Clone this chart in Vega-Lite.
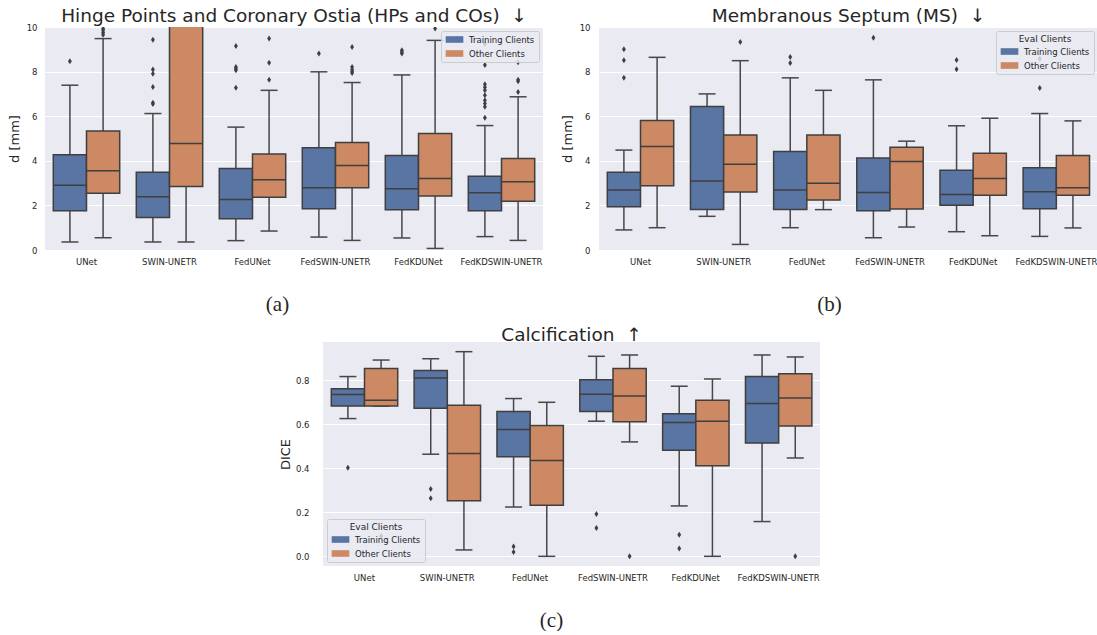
{
  "$schema": "https://vega.github.io/schema/vega-lite/v6.json",
  "padding": {"left": 8, "top": 6, "right": 0, "bottom": 0},
  "datasets": {
    "a_stats": [
      {"model": "UNet", "group": "Training Clients", "lo": 0.36, "q1": 1.76, "med": 2.9, "q3": 4.27, "hi": 7.39},
      {"model": "UNet", "group": "Other Clients", "lo": 0.55, "q1": 2.55, "med": 3.55, "q3": 5.34, "hi": 9.48},
      {"model": "SWIN-UNETR", "group": "Training Clients", "lo": 0.36, "q1": 1.46, "med": 2.39, "q3": 3.49, "hi": 6.12},
      {"model": "SWIN-UNETR", "group": "Other Clients", "lo": 0.36, "q1": 2.85, "med": 4.78, "q3": 11.0, "hi": 20.0},
      {"model": "FedUNet", "group": "Training Clients", "lo": 0.42, "q1": 1.4, "med": 2.27, "q3": 3.66, "hi": 5.51},
      {"model": "FedUNet", "group": "Other Clients", "lo": 0.85, "q1": 2.36, "med": 3.15, "q3": 4.31, "hi": 7.16},
      {"model": "FedSWIN-UNETR", "group": "Training Clients", "lo": 0.58, "q1": 1.85, "med": 2.79, "q3": 4.58, "hi": 7.99},
      {"model": "FedSWIN-UNETR", "group": "Other Clients", "lo": 0.43, "q1": 2.79, "med": 3.79, "q3": 4.82, "hi": 7.51},
      {"model": "FedKDUNet", "group": "Training Clients", "lo": 0.54, "q1": 1.81, "med": 2.75, "q3": 4.24, "hi": 7.85},
      {"model": "FedKDUNet", "group": "Other Clients", "lo": 0.07, "q1": 2.42, "med": 3.21, "q3": 5.22, "hi": 9.4},
      {"model": "FedKDSWIN-UNETR", "group": "Training Clients", "lo": 0.6, "q1": 1.76, "med": 2.57, "q3": 3.31, "hi": 5.58},
      {"model": "FedKDSWIN-UNETR", "group": "Other Clients", "lo": 0.43, "q1": 2.19, "med": 3.06, "q3": 4.1, "hi": 6.87}
    ],
    "a_out": [
      {"model": "UNet", "group": "Training Clients", "value": 8.46},
      {"model": "UNet", "group": "Other Clients", "value": 9.65},
      {"model": "UNet", "group": "Other Clients", "value": 9.75},
      {"model": "UNet", "group": "Other Clients", "value": 9.85},
      {"model": "UNet", "group": "Other Clients", "value": 9.93},
      {"model": "SWIN-UNETR", "group": "Training Clients", "value": 9.43},
      {"model": "SWIN-UNETR", "group": "Training Clients", "value": 8.09},
      {"model": "SWIN-UNETR", "group": "Training Clients", "value": 7.9},
      {"model": "SWIN-UNETR", "group": "Training Clients", "value": 7.31},
      {"model": "SWIN-UNETR", "group": "Training Clients", "value": 6.6},
      {"model": "SWIN-UNETR", "group": "Training Clients", "value": 6.55},
      {"model": "FedUNet", "group": "Training Clients", "value": 9.15},
      {"model": "FedUNet", "group": "Training Clients", "value": 8.21},
      {"model": "FedUNet", "group": "Training Clients", "value": 8.13},
      {"model": "FedUNet", "group": "Training Clients", "value": 8.06},
      {"model": "FedUNet", "group": "Training Clients", "value": 7.28},
      {"model": "FedUNet", "group": "Other Clients", "value": 9.48},
      {"model": "FedUNet", "group": "Other Clients", "value": 8.4},
      {"model": "FedUNet", "group": "Other Clients", "value": 7.64},
      {"model": "FedSWIN-UNETR", "group": "Training Clients", "value": 8.81},
      {"model": "FedSWIN-UNETR", "group": "Other Clients", "value": 9.1},
      {"model": "FedSWIN-UNETR", "group": "Other Clients", "value": 8.21},
      {"model": "FedSWIN-UNETR", "group": "Other Clients", "value": 8.09},
      {"model": "FedSWIN-UNETR", "group": "Other Clients", "value": 8.0},
      {"model": "FedSWIN-UNETR", "group": "Other Clients", "value": 7.94},
      {"model": "FedKDUNet", "group": "Training Clients", "value": 8.96},
      {"model": "FedKDUNet", "group": "Training Clients", "value": 8.88},
      {"model": "FedKDUNet", "group": "Training Clients", "value": 8.81},
      {"model": "FedKDUNet", "group": "Other Clients", "value": 9.93},
      {"model": "FedKDSWIN-UNETR", "group": "Training Clients", "value": 9.25},
      {"model": "FedKDSWIN-UNETR", "group": "Training Clients", "value": 8.3},
      {"model": "FedKDSWIN-UNETR", "group": "Training Clients", "value": 7.43},
      {"model": "FedKDSWIN-UNETR", "group": "Training Clients", "value": 7.3},
      {"model": "FedKDSWIN-UNETR", "group": "Training Clients", "value": 7.16},
      {"model": "FedKDSWIN-UNETR", "group": "Training Clients", "value": 6.94},
      {"model": "FedKDSWIN-UNETR", "group": "Training Clients", "value": 6.72},
      {"model": "FedKDSWIN-UNETR", "group": "Training Clients", "value": 6.57},
      {"model": "FedKDSWIN-UNETR", "group": "Training Clients", "value": 6.42},
      {"model": "FedKDSWIN-UNETR", "group": "Training Clients", "value": 5.93},
      {"model": "FedKDSWIN-UNETR", "group": "Other Clients", "value": 8.42},
      {"model": "FedKDSWIN-UNETR", "group": "Other Clients", "value": 7.64},
      {"model": "FedKDSWIN-UNETR", "group": "Other Clients", "value": 7.57},
      {"model": "FedKDSWIN-UNETR", "group": "Other Clients", "value": 7.09}
    ],
    "b_stats": [
      {"model": "UNet", "group": "Training Clients", "lo": 0.9, "q1": 1.94, "med": 2.69, "q3": 3.49, "hi": 4.48},
      {"model": "UNet", "group": "Other Clients", "lo": 1.0, "q1": 2.88, "med": 4.64, "q3": 5.81, "hi": 8.64},
      {"model": "SWIN-UNETR", "group": "Training Clients", "lo": 1.51, "q1": 1.82, "med": 3.09, "q3": 6.43, "hi": 7.0},
      {"model": "SWIN-UNETR", "group": "Other Clients", "lo": 0.25, "q1": 2.6, "med": 3.85, "q3": 5.16, "hi": 8.49},
      {"model": "FedUNet", "group": "Training Clients", "lo": 1.0, "q1": 1.82, "med": 2.69, "q3": 4.42, "hi": 7.72},
      {"model": "FedUNet", "group": "Other Clients", "lo": 1.81, "q1": 2.24, "med": 2.99, "q3": 5.16, "hi": 7.16},
      {"model": "FedSWIN-UNETR", "group": "Training Clients", "lo": 0.55, "q1": 1.76, "med": 2.58, "q3": 4.12, "hi": 7.63},
      {"model": "FedSWIN-UNETR", "group": "Other Clients", "lo": 1.03, "q1": 1.84, "med": 3.97, "q3": 4.61, "hi": 4.88},
      {"model": "FedKDUNet", "group": "Training Clients", "lo": 0.82, "q1": 2.01, "med": 2.49, "q3": 3.58, "hi": 5.57},
      {"model": "FedKDUNet", "group": "Other Clients", "lo": 0.64, "q1": 2.45, "med": 3.21, "q3": 4.34, "hi": 5.91},
      {"model": "FedKDSWIN-UNETR", "group": "Training Clients", "lo": 0.61, "q1": 1.85, "med": 2.61, "q3": 3.69, "hi": 6.12},
      {"model": "FedKDSWIN-UNETR", "group": "Other Clients", "lo": 0.99, "q1": 2.45, "med": 2.79, "q3": 4.24, "hi": 5.79}
    ],
    "b_out": [
      {"model": "UNet", "group": "Training Clients", "value": 7.72},
      {"model": "UNet", "group": "Training Clients", "value": 8.51},
      {"model": "UNet", "group": "Training Clients", "value": 9.0},
      {"model": "SWIN-UNETR", "group": "Other Clients", "value": 9.33},
      {"model": "FedUNet", "group": "Training Clients", "value": 8.39},
      {"model": "FedUNet", "group": "Training Clients", "value": 8.66},
      {"model": "FedSWIN-UNETR", "group": "Training Clients", "value": 9.52},
      {"model": "FedKDUNet", "group": "Training Clients", "value": 8.1},
      {"model": "FedKDUNet", "group": "Training Clients", "value": 8.52},
      {"model": "FedKDSWIN-UNETR", "group": "Training Clients", "value": 7.27},
      {"model": "FedKDSWIN-UNETR", "group": "Training Clients", "value": 8.58}
    ],
    "c_stats": [
      {"model": "UNet", "group": "Training Clients", "lo": 0.626, "q1": 0.683, "med": 0.735, "q3": 0.762, "hi": 0.817},
      {"model": "UNet", "group": "Other Clients", "lo": 0.683, "q1": 0.683, "med": 0.709, "q3": 0.853, "hi": 0.892},
      {"model": "SWIN-UNETR", "group": "Training Clients", "lo": 0.464, "q1": 0.673, "med": 0.81, "q3": 0.844, "hi": 0.898},
      {"model": "SWIN-UNETR", "group": "Other Clients", "lo": 0.029, "q1": 0.253, "med": 0.467, "q3": 0.686, "hi": 0.93},
      {"model": "FedUNet", "group": "Training Clients", "lo": 0.224, "q1": 0.452, "med": 0.576, "q3": 0.658, "hi": 0.717},
      {"model": "FedUNet", "group": "Other Clients", "lo": 0.0, "q1": 0.232, "med": 0.435, "q3": 0.595, "hi": 0.7},
      {"model": "FedSWIN-UNETR", "group": "Training Clients", "lo": 0.614, "q1": 0.658, "med": 0.736, "q3": 0.802, "hi": 0.909},
      {"model": "FedSWIN-UNETR", "group": "Other Clients", "lo": 0.52, "q1": 0.612, "med": 0.729, "q3": 0.853, "hi": 0.915},
      {"model": "FedKDUNet", "group": "Training Clients", "lo": 0.229, "q1": 0.482, "med": 0.608, "q3": 0.648, "hi": 0.773},
      {"model": "FedKDUNet", "group": "Other Clients", "lo": 0.0, "q1": 0.412, "med": 0.614, "q3": 0.709, "hi": 0.806},
      {"model": "FedKDSWIN-UNETR", "group": "Training Clients", "lo": 0.158, "q1": 0.515, "med": 0.695, "q3": 0.817, "hi": 0.915},
      {"model": "FedKDSWIN-UNETR", "group": "Other Clients", "lo": 0.447, "q1": 0.592, "med": 0.72, "q3": 0.83, "hi": 0.906}
    ],
    "c_out": [
      {"model": "UNet", "group": "Training Clients", "value": 0.403},
      {"model": "UNet", "group": "Other Clients", "value": 0.092},
      {"model": "SWIN-UNETR", "group": "Training Clients", "value": 0.306},
      {"model": "SWIN-UNETR", "group": "Training Clients", "value": 0.264},
      {"model": "FedUNet", "group": "Training Clients", "value": 0.045},
      {"model": "FedUNet", "group": "Training Clients", "value": 0.02},
      {"model": "FedSWIN-UNETR", "group": "Training Clients", "value": 0.192},
      {"model": "FedSWIN-UNETR", "group": "Training Clients", "value": 0.129},
      {"model": "FedSWIN-UNETR", "group": "Other Clients", "value": 0.0},
      {"model": "FedKDUNet", "group": "Training Clients", "value": 0.098},
      {"model": "FedKDUNet", "group": "Training Clients", "value": 0.035},
      {"model": "FedKDSWIN-UNETR", "group": "Other Clients", "value": 0.0}
    ]
  },
  "vconcat": [
    {
      "hconcat": [
        {
          "width": 498, "height": 223,
          "title": {"text": "Hinge Points and Coronary Ostia (HPs and COs) \u00a0\u2193"},
          "encoding": {
            "x": {"field": "model", "type": "nominal", "sort": ["UNet", "SWIN-UNETR", "FedUNet", "FedSWIN-UNETR", "FedKDUNet", "FedKDSWIN-UNETR"], "scale": {"paddingInner": 0, "paddingOuter": 0}, "axis": {"title": "(a)", "titleX": 232, "titlePadding": 28, "labelPadding": 7}},
            "xOffset": {"field": "group", "type": "nominal", "sort": ["Training Clients", "Other Clients"], "scale": {"paddingInner": 0, "paddingOuter": 0.25}}
          },
          "layer": [
            {"data": {"name": "a_stats"}, "mark": {"type": "rule", "color": "#474747", "strokeWidth": 1.5, "clip": true},
             "encoding": {"y": {"field": "lo", "type": "quantitative", "scale": {"domain": [0, 10], "nice": false, "zero": false}, "title": "d [mm]", "axis": {"values": [0, 2, 4, 6, 8, 10], "labelPadding": 8, "titlePadding": 5}}, "y2": {"field": "hi"}}},
            {"data": {"name": "a_stats"}, "mark": {"type": "tick", "color": "#474747", "size": 17, "thickness": 1.5, "opacity": 1, "clip": true},
             "encoding": {"y": {"field": "lo", "type": "quantitative", "title": "d [mm]"}}},
            {"data": {"name": "a_stats"}, "mark": {"type": "tick", "color": "#474747", "size": 17, "thickness": 1.5, "opacity": 1, "clip": true},
             "encoding": {"y": {"field": "hi", "type": "quantitative", "title": "d [mm]"}}},
            {"data": {"name": "a_stats"}, "mark": {"type": "bar", "stroke": "#3f3f3f", "strokeWidth": 1.5, "clip": true},
             "encoding": {"y": {"field": "q1", "type": "quantitative", "title": "d [mm]"}, "y2": {"field": "q3"},
               "color": {"field": "group", "type": "nominal", "scale": {"domain": ["Training Clients", "Other Clients"], "range": ["#5975A4", "#CC8963"]}, "legend": {"title": null, "orient": "top-right"}}}},
            {"data": {"name": "a_stats"}, "mark": {"type": "tick", "color": "#3f3f3f", "size": 33, "thickness": 1.5, "opacity": 1, "clip": true},
             "encoding": {"y": {"field": "med", "type": "quantitative", "title": "d [mm]"}}},
            {"data": {"name": "a_out"}, "mark": {"type": "point", "shape": "M0,-1L0.65,0L0,1L-0.65,0Z", "filled": true, "color": "#3f3f3f", "opacity": 1, "size": 36, "clip": true},
             "encoding": {"y": {"field": "value", "type": "quantitative", "title": "d [mm]"}}}
          ]
        },
        {
          "width": 499, "height": 223,
          "title": {"text": "Membranous Septum (MS) \u00a0\u2193"},
          "encoding": {
            "x": {"field": "model", "type": "nominal", "sort": ["UNet", "SWIN-UNETR", "FedUNet", "FedSWIN-UNETR", "FedKDUNet", "FedKDSWIN-UNETR"], "scale": {"paddingInner": 0, "paddingOuter": 0}, "axis": {"title": "(b)", "titleX": 230, "titlePadding": 28, "labelPadding": 7}},
            "xOffset": {"field": "group", "type": "nominal", "sort": ["Training Clients", "Other Clients"], "scale": {"paddingInner": 0, "paddingOuter": 0.25}}
          },
          "layer": [
            {"data": {"name": "b_stats"}, "mark": {"type": "rule", "color": "#474747", "strokeWidth": 1.5, "clip": true},
             "encoding": {"y": {"field": "lo", "type": "quantitative", "scale": {"domain": [0, 10], "nice": false, "zero": false}, "title": "d [mm]", "axis": {"values": [0, 2, 4, 6, 8, 10], "labelPadding": 9, "titlePadding": 5}}, "y2": {"field": "hi"}}},
            {"data": {"name": "b_stats"}, "mark": {"type": "tick", "color": "#474747", "size": 17, "thickness": 1.5, "opacity": 1},
             "encoding": {"y": {"field": "lo", "type": "quantitative", "title": "d [mm]"}}},
            {"data": {"name": "b_stats"}, "mark": {"type": "tick", "color": "#474747", "size": 17, "thickness": 1.5, "opacity": 1},
             "encoding": {"y": {"field": "hi", "type": "quantitative", "title": "d [mm]"}}},
            {"data": {"name": "b_stats"}, "mark": {"type": "bar", "stroke": "#3f3f3f", "strokeWidth": 1.5},
             "encoding": {"y": {"field": "q1", "type": "quantitative", "title": "d [mm]"}, "y2": {"field": "q3"},
               "color": {"field": "group", "type": "nominal", "scale": {"domain": ["Training Clients", "Other Clients"], "range": ["#5975A4", "#CC8963"]}, "legend": {"title": "Eval Clients", "orient": "top-right"}}}},
            {"data": {"name": "b_stats"}, "mark": {"type": "tick", "color": "#3f3f3f", "size": 33, "thickness": 1.5, "opacity": 1},
             "encoding": {"y": {"field": "med", "type": "quantitative", "title": "d [mm]"}}},
            {"data": {"name": "b_out"}, "mark": {"type": "point", "shape": "M0,-1L0.65,0L0,1L-0.65,0Z", "filled": true, "color": "#3f3f3f", "opacity": 1, "size": 36},
             "encoding": {"y": {"field": "value", "type": "quantitative", "title": "d [mm]"}}}
          ]
        }
      ],
      "spacing": 18,
      "resolve": {"scale": {"color": "independent"}, "legend": {"color": "independent"}}
    },
    {
      "width": 497, "height": 224,
      "title": {"text": "Calcification \u00a0\u2191"},
      "encoding": {
        "x": {"field": "model", "type": "nominal", "sort": ["UNet", "SWIN-UNETR", "FedUNet", "FedSWIN-UNETR", "FedKDUNet", "FedKDSWIN-UNETR"], "scale": {"paddingInner": 0, "paddingOuter": 0}, "axis": {"title": "(c)", "titleX": 228, "titlePadding": 28, "labelPadding": 7}},
        "xOffset": {"field": "group", "type": "nominal", "sort": ["Training Clients", "Other Clients"], "scale": {"paddingInner": 0, "paddingOuter": 0.25}}
      },
      "layer": [
        {"data": {"name": "c_stats"}, "mark": {"type": "rule", "color": "#474747", "strokeWidth": 1.5},
         "encoding": {"y": {"field": "lo", "type": "quantitative", "scale": {"domain": [-0.044, 0.974], "nice": false, "zero": false}, "title": "DICE", "axis": {"values": [0, 0.2, 0.4, 0.6, 0.8], "format": ".1f", "labelPadding": 14, "titlePadding": 3}}, "y2": {"field": "hi"}}},
        {"data": {"name": "c_stats"}, "mark": {"type": "tick", "color": "#474747", "size": 17, "thickness": 1.5, "opacity": 1},
         "encoding": {"y": {"field": "lo", "type": "quantitative", "title": "DICE"}}},
        {"data": {"name": "c_stats"}, "mark": {"type": "tick", "color": "#474747", "size": 17, "thickness": 1.5, "opacity": 1},
         "encoding": {"y": {"field": "hi", "type": "quantitative", "title": "DICE"}}},
        {"data": {"name": "c_stats"}, "mark": {"type": "bar", "stroke": "#3f3f3f", "strokeWidth": 1.5},
         "encoding": {"y": {"field": "q1", "type": "quantitative", "title": "DICE"}, "y2": {"field": "q3"},
           "color": {"field": "group", "type": "nominal", "scale": {"domain": ["Training Clients", "Other Clients"], "range": ["#5975A4", "#CC8963"]}, "legend": {"title": "Eval Clients", "orient": "bottom-left"}}}},
        {"data": {"name": "c_stats"}, "mark": {"type": "tick", "color": "#3f3f3f", "size": 33, "thickness": 1.5, "opacity": 1},
         "encoding": {"y": {"field": "med", "type": "quantitative", "title": "DICE"}}},
        {"data": {"name": "c_out"}, "mark": {"type": "point", "shape": "M0,-1L0.65,0L0,1L-0.65,0Z", "filled": true, "color": "#3f3f3f", "opacity": 1, "size": 36},
         "encoding": {"y": {"field": "value", "type": "quantitative", "title": "DICE"}}}
      ]
    }
  ],
  "spacing": 10,
  "center": true,
  "resolve": {"scale": {"color": "independent"}, "legend": {"color": "independent"}},
  "config": {
    "font": "DejaVu Sans",
    "view": {"fill": "#EAEAF2", "stroke": null},
    "title": {"font": "DejaVu Sans", "fontSize": 18.5, "fontWeight": "normal", "color": "#262626", "anchor": "middle", "offset": -2},
    "axis": {"domain": false, "ticks": false, "labelFont": "DejaVu Sans", "labelFontSize": 8.5, "labelColor": "#262626", "titleFont": "DejaVu Sans", "titleFontSize": 13, "titleFontWeight": "normal", "titleColor": "#262626", "gridColor": "#FFFFFF", "gridWidth": 1, "gridOpacity": 1},
    "axisX": {"grid": false, "labelAngle": 0, "titleFont": "Liberation Serif", "titleFontSize": 21, "titleAlign": "center"},
    "axisY": {"grid": true},
    "legend": {"labelFont": "DejaVu Sans", "labelFontSize": 8.5, "labelColor": "#262626", "titleFont": "DejaVu Sans", "titleFontSize": 9, "titleFontWeight": "normal", "titleColor": "#262626", "titleAnchor": "middle", "titlePadding": 3, "symbolType": "M-2,-0.75H2V0.75H-2Z", "symbolSize": 78, "symbolOffset": 5, "symbolStrokeWidth": 0, "padding": 4, "rowPadding": 5, "labelOffset": 10, "fillColor": "rgba(234,234,242,0.8)", "strokeColor": "#CCCCCC", "cornerRadius": 2, "offset": 4}
  }
}
